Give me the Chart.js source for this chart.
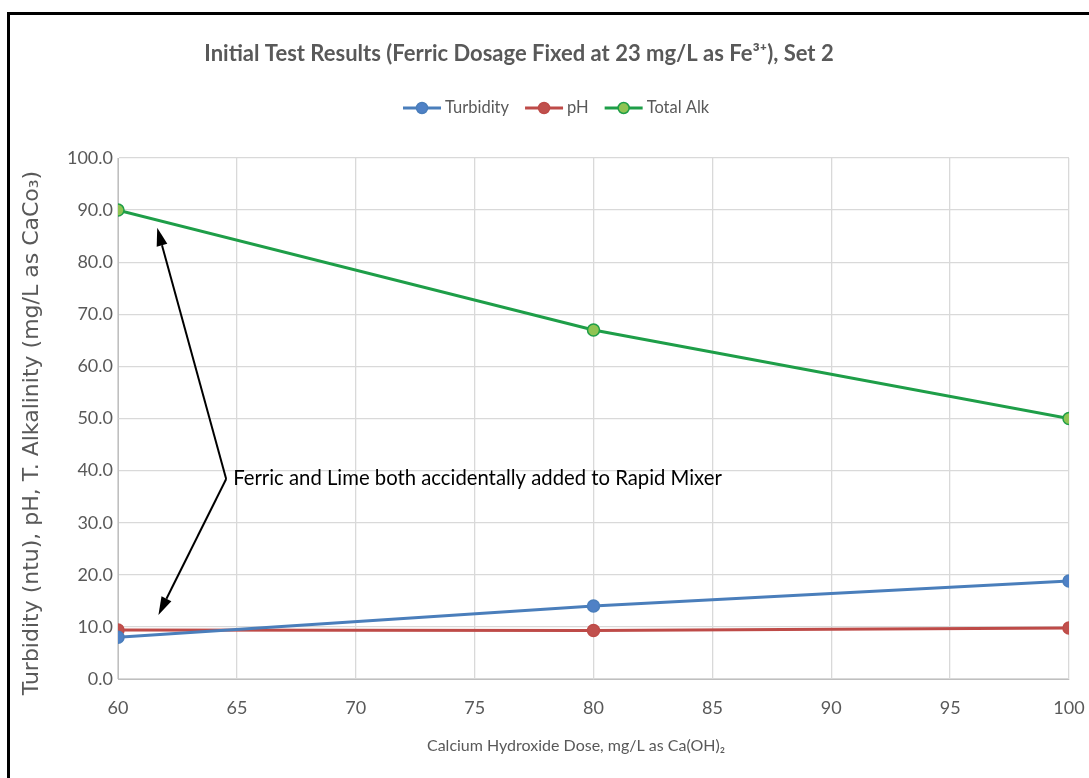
<!DOCTYPE html>
<html>
<head>
<meta charset="utf-8">
<script src="https://cdn.jsdelivr.net/npm/chart.js@4.4.1/dist/chart.umd.min.js"></script>
<style>
  html, body { margin: 0; padding: 0; background: #fff; overflow: hidden; }
  #frame { position: absolute; left: 7px; top: 12px; width: 1100px; height: 800px;
           border-top: 3px solid #000; border-left: 3px solid #000; }
  #wrap { position: absolute; left: 0; top: 0; width: 1089px; height: 778px; }
</style>
</head>
<body>
<div id="frame"></div>
<div id="wrap"><canvas id="chart"></canvas></div>
<script>
// Calcium hydroxide dose (mg/L as Ca(OH)2)
const doses = [60, 80, 100];
const turbidity = [8.0, 14.0, 18.8];
const phValues = [9.4, 9.3, 9.8];
const totalAlk = [90, 67, 50];

const seriesNames = ['Turbidity', 'pH', 'Total Alk'];
const chartTitle = 'Initial Test Results (Ferric Dosage Fixed at 23 mg/L as Fe³⁺), Set 2';
const xTitle = 'Calcium Hydroxide Dose, mg/L as Ca(OH)₂';
const yTitle = 'Turbidity (ntu), pH, T. Alkalinity (mg/L as CaCo₃)';
const noteText = 'Ferric and Lime both accidentally added to Rapid Mixer';

const calibri = "Lato, 'Open Sans', sans-serif";
Chart.defaults.font.family = calibri;
Chart.defaults.color = '#595959';

const toPoints = vals => doses.map((d, i) => ({ x: d, y: vals[i] }));

function lineSet(label, vals, line, fill) {
    return {
        label: label,
        data: toPoints(vals),
        borderColor: line,
        backgroundColor: fill,
        pointBackgroundColor: fill,
        pointBorderColor: line,
        pointBorderWidth: 1.5,
        pointRadius: 6,
        borderWidth: 3,
        tension: 0
    };
}

// titles, legend and the arrow note, drawn on top
const overlay = {
    id: 'overlay',
    afterDraw(chart) {
        const ctx = chart.ctx;
        const xs = chart.scales.x, ys = chart.scales.y;
        ctx.save();

        ctx.fillStyle = '#595959';
        ctx.font = "bold 22px " + calibri;
        ctx.textAlign = 'center';
        ctx.textBaseline = 'alphabetic';
        ctx.fillText(chartTitle, 519, 61);

        // axis titles
        ctx.font = "16px " + calibri;
        ctx.fillText(xTitle, 576, 751);
        ctx.save();
        ctx.translate(32, 433);
        ctx.rotate(-Math.PI / 2);
        ctx.font = "22px 'DejaVu Sans', Verdana, sans-serif";
        ctx.textBaseline = 'middle';
        ctx.fillText(yTitle, 0, 0);
        ctx.restore();

        // legend
        ctx.font = "16.5px " + calibri;
        ctx.textAlign = 'left';
        ctx.textBaseline = 'middle';
        let lx = 403;
        const ly = 108;
        chart.data.datasets.forEach(ds => {
            ctx.strokeStyle = ds.borderColor;
            ctx.lineWidth = 3;
            ctx.beginPath(); ctx.moveTo(lx, ly); ctx.lineTo(lx + 38, ly); ctx.stroke();
            ctx.beginPath(); ctx.arc(lx + 19, ly, 5.5, 0, Math.PI * 2);
            ctx.fillStyle = ds.pointBackgroundColor; ctx.fill();
            ctx.lineWidth = 1.5; ctx.stroke();
            ctx.fillStyle = '#595959';
            ctx.fillText(ds.label, lx + 42, ly);
            lx += 42 + ctx.measureText(ds.label).width + 16;
        });

        // note with two arrows
        const jx = xs.getPixelForValue(64.55), jy = ys.getPixelForValue(38.4);
        const arrows = [[61.65, 86.6], [61.7, 12.3]];
        ctx.strokeStyle = '#000';
        ctx.fillStyle = '#000';
        ctx.lineWidth = 2;
        arrows.forEach(a => {
            const tx = xs.getPixelForValue(a[0]), ty = ys.getPixelForValue(a[1]);
            const ang = Math.atan2(ty - jy, tx - jx);
            const hl = 18, hw = 5.5;
            const bx = tx - hl * Math.cos(ang), by = ty - hl * Math.sin(ang);
            ctx.beginPath(); ctx.moveTo(jx, jy); ctx.lineTo(bx, by); ctx.stroke();
            ctx.beginPath();
            ctx.moveTo(tx, ty);
            ctx.lineTo(bx + hw * Math.sin(ang), by - hw * Math.cos(ang));
            ctx.lineTo(bx - hw * Math.sin(ang), by + hw * Math.cos(ang));
            ctx.closePath(); ctx.fill();
        });
        ctx.font = "20.3px " + calibri;
        ctx.textAlign = 'left';
        ctx.textBaseline = 'middle';
        ctx.fillText(noteText, jx + 7, jy);
        ctx.restore();
    }
};

new Chart(document.getElementById('chart'), {
    type: 'line',
    data: {
        datasets: [
            lineSet(seriesNames[0], turbidity, '#4a7ebb', '#4f81c6'),
            lineSet(seriesNames[1], phValues, '#be4b48', '#c0504d'),
            lineSet(seriesNames[2], totalAlk, '#1e9e48', '#8fc453')
        ]
    },
    options: {
        responsive: true,
        maintainAspectRatio: false,
        animation: false,
        layout: { padding: { top: 158, right: 20, bottom: 0, left: 0 } },
        plugins: {
            legend: { display: false },
            tooltip: { enabled: false }
        },
        scales: {
            x: {
                type: 'linear',
                min: 60, max: 100,
                ticks: { stepSize: 5, padding: 18, font: { size: 18 }, color: '#595959' },
                grid: { color: '#d9d9d9', lineWidth: 1.3, drawTicks: false },
                border: { color: '#bfbfbf' },
                afterFit: s => { s.height = 99; s.paddingLeft = 0; s.paddingRight = 0; }
            },
            y: {
                min: 0, max: 100,
                ticks: { stepSize: 10, padding: 5, font: { size: 18 }, color: '#595959',
                         callback: v => v.toFixed(1) },
                grid: { color: '#d9d9d9', lineWidth: 1.3, drawTicks: false },
                border: { color: '#bfbfbf' },
                afterFit: s => { s.width = 118; s.paddingTop = 0; s.paddingBottom = 0; }
            }
        }
    },
    plugins: [overlay]
});
</script>
</body>
</html>
